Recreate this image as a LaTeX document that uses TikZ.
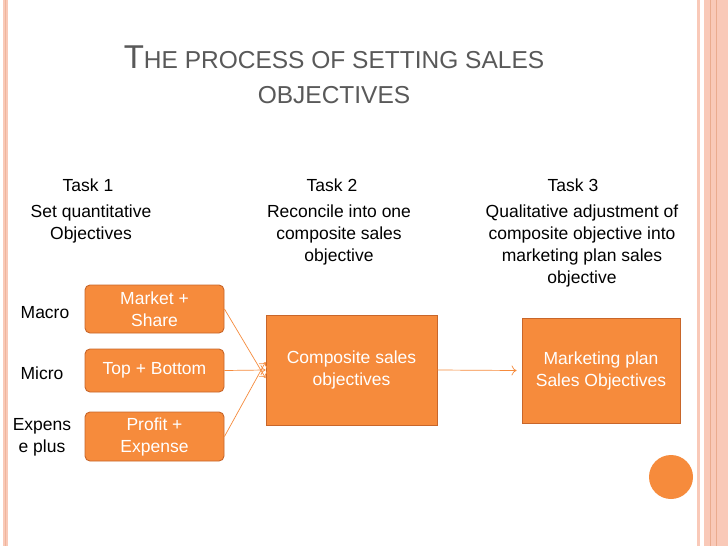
\documentclass[tikz,border=0pt]{standalone}
\usepackage{fontspec}
\setmainfont{Liberation Sans}
\usetikzlibrary{arrows.meta}
\definecolor{org}{HTML}{F68B3C}
\definecolor{orgd}{HTML}{C8662A}
\definecolor{pinkb}{HTML}{F9C9B8}
\definecolor{ttl}{HTML}{595959}
\tikzset{
 ob/.style={draw=orgd,fill=org,rounded corners=5pt,line width=0.9pt,text=white,align=center,font=\fontsize{17.5}{22}\selectfont,inner sep=0pt},
 sb/.style={draw=orgd,fill=org,line width=0.9pt,text=white,align=center,font=\fontsize{17.5}{22}\selectfont,inner sep=0pt},
 lbl/.style={align=center,font=\fontsize{17.5}{22}\selectfont,inner sep=0pt},
 arr/.style={draw=org,line width=0.7pt,-{To[length=5pt,width=10pt]}}
}
\begin{document}
\begin{tikzpicture}[x=1pt,y=-1pt]
\useasboundingbox[fill=white] (0,0) rectangle (728,546);
% borders
\fill[pinkb] (3,0) rectangle (8,546);
\draw[pinkb!80!orgd,line width=0.5pt] (5.5,0) -- (5.5,546);
\fill[pinkb] (697,0) rectangle (699.5,546);
\fill[pinkb] (704,0) rectangle (728,546);
\draw[pinkb!70!orgd,line width=0.6pt] (710,0) -- (710,546) (716,0) -- (716,546);
% title
\node[text=ttl,font=\fontsize{24.5}{28}\selectfont] (t1) at (334,57) {{\fontsize{33}{36}\selectfont T}HE PROCESS OF SETTING SALES};
\node[text=ttl,font=\fontsize{24.5}{28}\selectfont] (t2) at (334,95) {OBJECTIVES};
% tasks
\node[lbl] (k1) at (88,185) {Task 1};
\node[lbl] (k2) at (332,185) {Task 2};
\node[lbl] (k3) at (573,185) {Task 3};
\node[lbl,anchor=north] (d1) at (91,205) {Set quantitative\\Objectives};
\node[lbl,anchor=north] (d2) at (339,205) {Reconcile into one\\composite sales\\objective};
\node[lbl,anchor=north] (d3) at (582,205) {Qualitative adjustment of\\composite objective into\\marketing plan sales\\objective};
% left labels
\node[lbl] (m1) at (45,313) {Macro};
\node[lbl] (m2) at (42,373) {Micro};
\node[lbl] (m3) at (42,437) {Expens\\e plus};
% boxes
\node[ob,minimum width=139,minimum height=48] (b1) at (154.5,309) {Market +\\Share};
\node[ob,minimum width=139,minimum height=43] (b2) at (154.5,370.5) {Top + Bottom};
\node[ob,minimum width=139,minimum height=49] (b3) at (154.5,436.5) {Profit +\\Expense};
\node[sb,minimum width=171,minimum height=110] (c) at (351.5,370) {Composite sales\\objectives};
\node[sb,minimum width=158,minimum height=105] (mk) at (601,370.5) {Marketing plan\\Sales Objectives};
\node[circle,fill=org,minimum size=44,inner sep=0] (dot) at (671,477) {};
% arrows
\draw[arr] (b1.east) -- ([yshift=-8]c.west);
\draw[arr] (b2.east) -- (c.west);
\draw[arr] (b3.east) -- ([yshift=8]c.west);
\draw[arr] (c.east) -- ([xshift=-5]mk.west);
\end{tikzpicture}
\end{document}
